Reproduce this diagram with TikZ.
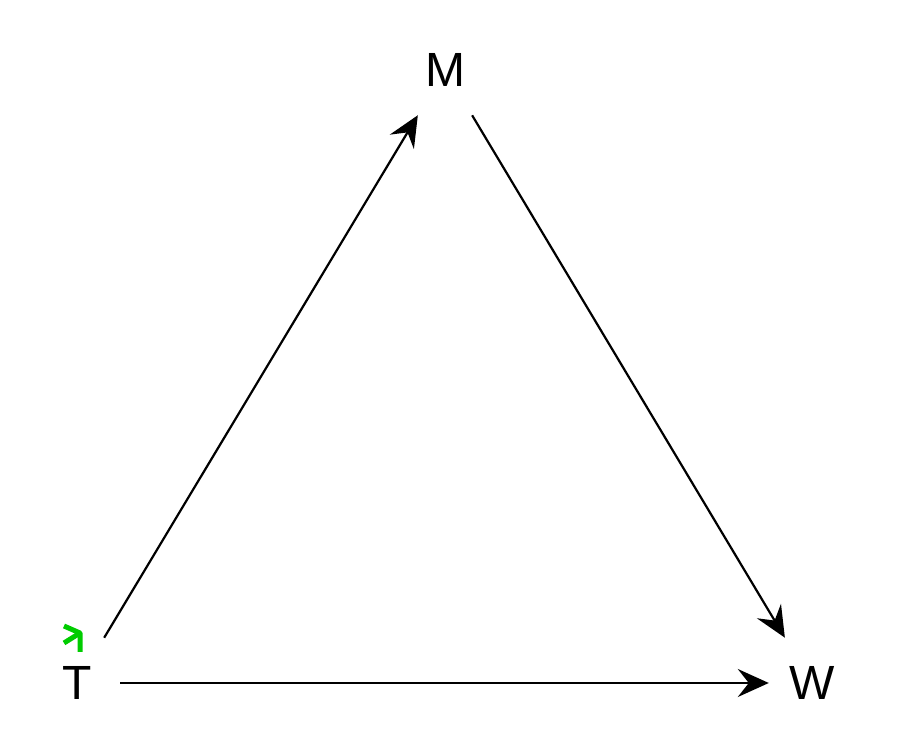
\documentclass[tikz,border=0pt]{standalone}
\usepackage{fontspec}
\setmainfont{Liberation Sans}
\usetikzlibrary{arrows.meta,shapes.geometric}
\begin{document}
\begin{tikzpicture}[x=1pt,y=1pt,
  var/.style={ellipse,inner sep=0pt,minimum width=86pt,minimum height=116pt,font=\fontsize{48}{48}\selectfont},
  edge/.style={line width=2.2pt,-{Stealth[length=31pt,width=28pt,inset=11pt]}}]
\useasboundingbox (0,0) rectangle (900,750);
\node[var] (T) at (77,67) {T};
\node[var] (M) at (445,680) {M};
\node[var] (W) at (812,67) {W};
\draw[edge] (T) -- (M);
\draw[edge] (M) -- (W);
\draw[edge] (T) -- (W);
\coordinate (g1) at (64,124);
\coordinate (g2) at (80,117);
\coordinate (g3) at (64,107);
\coordinate (g4) at (80,98);
\draw[green!80!black,line width=5pt,line join=round] (g1) -- (g2) -- (g4);
\draw[green!80!black,line width=5pt] (g3) -- (g2);
\end{tikzpicture}
\end{document}
